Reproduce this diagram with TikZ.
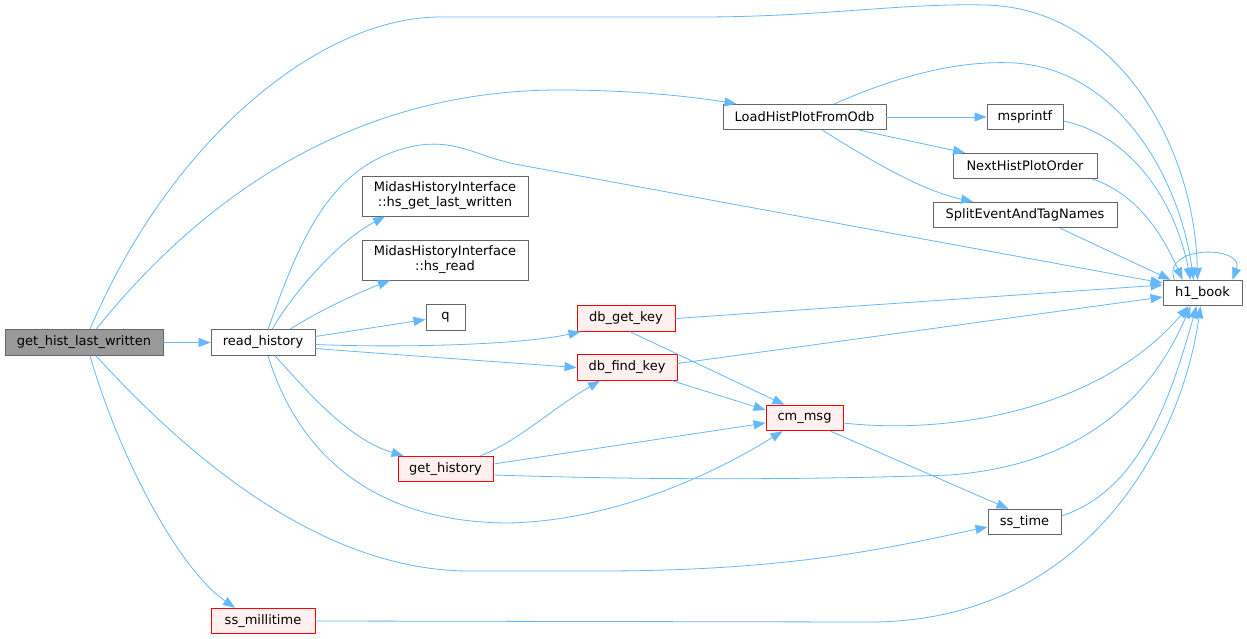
\documentclass[tikz,border=0pt]{standalone}
\usepackage{fontspec}
\setmainfont{DejaVu Sans}
\usetikzlibrary{arrows.meta}
\definecolor{edgeblue}{HTML}{63B8FF}
\definecolor{nodeborder}{HTML}{666666}
\definecolor{rootfill}{HTML}{999999}
\definecolor{redfill}{HTML}{FFF0F0}
\begin{document}
\begin{tikzpicture}[x=1pt,y=-1pt,
  box/.style={draw=nodeborder,fill=white,line width=0.9pt,inner sep=0pt,minimum height=25.5pt,font=\fontsize{13}{15}\selectfont,align=center},
  rootbox/.style={box,fill=rootfill},
  redbox/.style={box,draw=red,fill=redfill},
  edge/.style={draw=edgeblue,line width=0.8pt,-{Triangle[length=12pt,width=9pt]}}]
\useasboundingbox[fill=white] (0,0) rectangle (1247,639);

\node[rootbox,minimum width=158pt] (G) at (84,342.5) {get\_hist\_last\_written};
\node[box,minimum width=104pt] (R) at (263,342.5) {read\_history};
\node[box,minimum width=166pt,minimum height=40pt] (hsglw) at (445,196) {MidasHistoryInterface\\::hs\_get\_last\_written};
\node[box,minimum width=166pt,minimum height=40pt] (hsread) at (445,260) {MidasHistoryInterface\\::hs\_read};
\node[box,minimum width=39pt] (q) at (445.5,317.5) {q};
\node[redbox,minimum width=98pt] (dbget) at (626,318.5) {db\_get\_key};
\node[redbox,minimum width=100pt] (dbfind) at (627,367.5) {db\_find\_key};
\node[redbox,minimum width=95pt] (gethist) at (445.5,469) {get\_history};
\node[redbox,minimum width=77pt] (cmmsg) at (804.5,418) {cm\_msg};
\node[box,minimum width=73pt] (sstime) at (1024.5,522) {ss\_time};
\node[redbox,minimum width=104pt] (ssmilli) at (263,621) {ss\_millitime};
\node[box,minimum width=163pt] (Load) at (804.5,117) {LoadHistPlotFromOdb};
\node[box,minimum width=76pt] (msprintf) at (1025,117) {msprintf};
\node[box,minimum width=144pt] (Next) at (1025,166) {NextHistPlotOrder};
\node[box,minimum width=184pt] (Split) at (1025,215) {SplitEventAndTagNames};
\node[box,minimum width=79pt] (h1) at (1202.5,293) {h1\_book};

% from get_hist_last_written
\draw[edge] ([xshift=6]G.north) .. controls (170,140) and (320,17) .. (440,17) -- (700,17)
  .. controls (820,17) and (900,3) .. (985,5) .. controls (1120,8) and (1195,150) .. ([xshift=-5]h1.north);
\draw[edge] ([xshift=12]G.north) .. controls (200,200) and (350,90) .. (560,90)
  .. controls (640,90) and (700,98) .. ([xshift=-68]Load.north);
\draw[edge] (G.east) -- (R.west);
\draw[edge] ([xshift=12]G.south) .. controls (200,470) and (330,571) .. (470,571) -- (600,571)
  .. controls (800,571) and (900,545) .. ([yshift=-5]sstime.west);
\draw[edge] ([xshift=6]G.south) .. controls (120,460) and (180,570) .. ([xshift=-28]ssmilli.north);

% from read_history
\draw[edge] ([xshift=5]R.north) .. controls (300,240) and (330,160) .. (420,145)
  .. controls (460,140) and (480,158) .. (520,165) -- ([yshift=10]h1.west);
\draw[edge] ([xshift=9]R.north) .. controls (295,290) and (340,240) .. ([xshift=-60]hsglw.south);
\draw[edge] ([xshift=27]R.north) .. controls (320,310) and (360,292) .. ([xshift=-55]hsread.south);
\draw[edge] ([yshift=6]R.east) -- ([yshift=-2]q.west);
\draw[edge] ([yshift=-2]R.east) .. controls (400,348) and (520,345) .. ([xshift=4]dbget.south west);
\draw[edge] ([yshift=-6]R.east) .. controls (400,355) and (500,362) .. (dbfind.west);
\draw[edge] ([xshift=12]R.south) .. controls (310,395) and (350,440) .. ([xshift=-42]gethist.north);
\draw[edge] ([xshift=5]R.south) .. controls (300,460) and (380,523) .. (510,523)
  .. controls (620,520) and (720,470) .. ([xshift=-22]cmmsg.south);

% from get_history
\draw[edge] ([xshift=35]gethist.north) .. controls (520,440) and (550,410) .. ([xshift=-27]dbfind.south);
\draw[edge] ([yshift=5]gethist.east) -- ([yshift=-5]cmmsg.west);
\draw[edge] ([yshift=-6]gethist.east) .. controls (650,480) and (800,480) .. (950,475)
  .. controls (1080,465) and (1150,400) .. ([xshift=-12]h1.south);

% db_get_key, db_find_key
\draw[edge] (dbget.east) -- ([yshift=8]h1.west);
\draw[edge] ([xshift=4]dbget.south) -- ([xshift=-20]cmmsg.north);
\draw[edge] ([yshift=4]dbfind.east) -- ([yshift=-4]h1.west);
\draw[edge] ([xshift=45]dbfind.south) -- ([yshift=8]cmmsg.west);

% cm_msg, ss_time, ss_millitime
\draw[edge] ([yshift=-5]cmmsg.east) .. controls (950,435) and (1100,410) .. ([xshift=-14]h1.south);
\draw[edge] ([xshift=26]cmmsg.south) -- ([xshift=-16]sstime.north);
\draw[edge] ([yshift=6]sstime.east) .. controls (1140,490) and (1170,400) .. ([xshift=-6]h1.south);
\draw[edge] (ssmilli.east) -- (870,622) .. controls (1080,622) and (1180,450) .. ([xshift=-2]h1.south);

% LoadHistPlotFromOdb
\draw[edge] ([xshift=30]Load.north) .. controls (900,75) and (960,60) .. (1015,63)
  .. controls (1120,70) and (1180,180) .. ([xshift=-9]h1.north);
\draw[edge] (Load.east) -- (msprintf.west);
\draw[edge] ([xshift=55]Load.south) -- ([xshift=-60]Next.north);
\draw[edge] ([xshift=18]Load.south) .. controls (870,160) and (920,190) .. ([xshift=-52]Split.north);

% into h1_book
\draw[edge] ([yshift=-4]msprintf.east) .. controls (1130,135) and (1175,200) .. ([xshift=-12]h1.north);
\draw[edge] ([xshift=68]Next.south) .. controls (1140,195) and (1165,240) .. ([xshift=-20]h1.north);
\draw[edge] ([xshift=35]Split.south) -- ([xshift=8]h1.north west);
\draw[edge] ([xshift=-28]h1.north) .. controls (1160,245) and (1245,245) .. ([xshift=30]h1.north);
\end{tikzpicture}
\end{document}
